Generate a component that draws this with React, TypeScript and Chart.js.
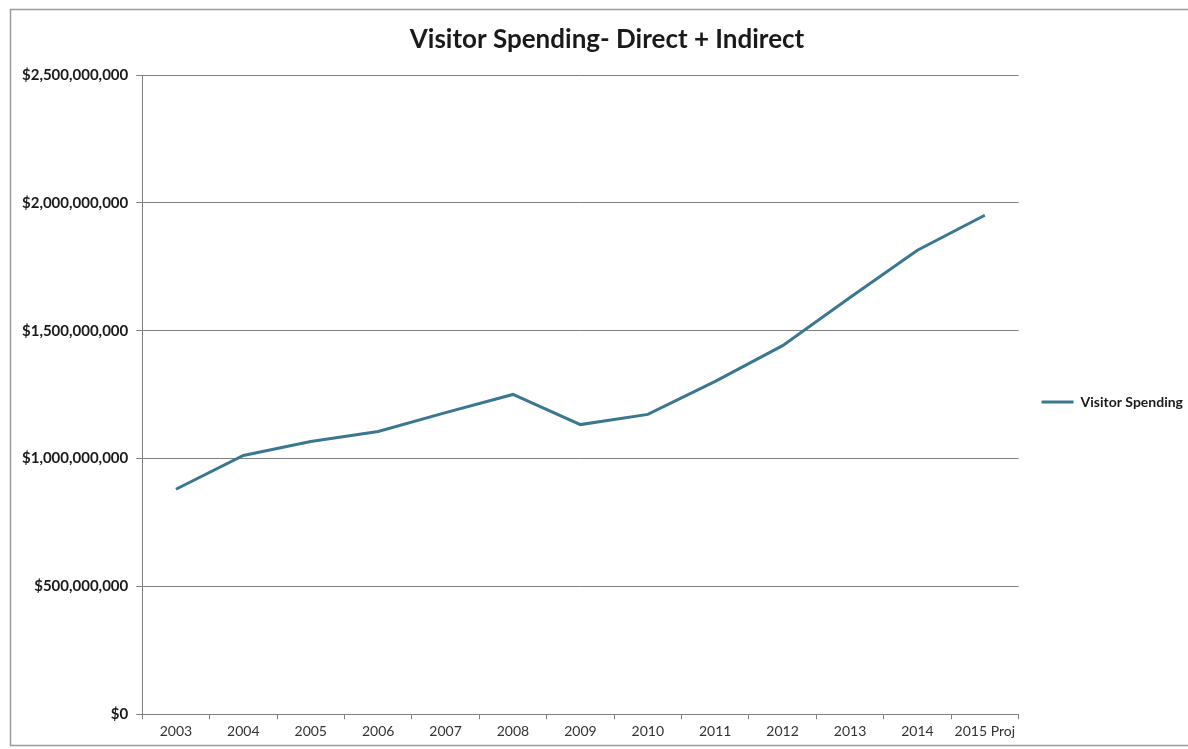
import React, { useEffect, useRef } from "react";
import { Chart, registerables } from "chart.js";

Chart.register(...registerables);

const categories: string[] = [
  "2003", "2004", "2005", "2006", "2007", "2008", "2009",
  "2010", "2011", "2012", "2013", "2014", "2015 Proj",
];

const visitorSpending: number[] = [
  880000000, 1012000000, 1067000000, 1106000000, 1180000000, 1251000000,
  1133000000, 1173000000, 1302000000, 1442000000, 1630000000, 1815000000,
  1952000000,
];

const yTicks: number[] = [0, 500000000, 1000000000, 1500000000, 2000000000, 2500000000];

const titleText = "Visitor Spending- Direct + Indirect";
const seriesName = "Visitor Spending";

const lineColor = "#3b7790";
const gridColor = "#808080";

const borderPlugin = {
  id: "outerBorder",
  beforeDraw(chart: any) {
    const ctx = chart.ctx;
    ctx.save();
    ctx.fillStyle = "#ffffff";
    ctx.fillRect(0, 0, chart.width, chart.height);
    ctx.strokeStyle = "#9a9a9a";
    ctx.lineWidth = 1.5;
    ctx.strokeRect(10.5, 9.5, chart.width + 20, 736);
    ctx.restore();
  },
};

// Nudge the library's own legend and title to where the reference places them.
const layoutShiftPlugin = {
  id: "layoutShift",
  afterLayout(chart: any) {
    const lg = chart.legend;
    if (lg) {
      const dx = 19;
      const dy = 30;
      lg.left += dx;
      lg.right += dx;
      lg.top += dy;
      lg.bottom += dy;
    }
    const tb = chart.titleBlock;
    if (tb) {
      tb.left += 13;
      tb.right += 13;
    }
  },
};

export default function App() {
  const canvasRef = useRef<HTMLCanvasElement | null>(null);

  useEffect(() => {
    document.body.style.margin = "0";
    const canvas = canvasRef.current;
    if (!canvas) return;
    const chart = new Chart(canvas, {
      type: "line",
      data: {
        labels: categories,
        datasets: [
          {
            label: seriesName,
            data: visitorSpending,
            borderColor: lineColor,
            backgroundColor: lineColor,
            borderWidth: 3,
            pointRadius: 0,
            tension: 0,
            pointStyle: "line",
          },
        ],
      },
      options: {
        responsive: false,
        animation: false,
        devicePixelRatio: 1,
        layout: { padding: { left: 14, right: 14, top: 0, bottom: 5 } },
        plugins: {
          title: {
            display: true,
            text: titleText,
            color: "#1a1a1a",
            font: { family: "Lato", size: 26, weight: "bold" },
            padding: { top: 24, bottom: 20 },
          },
          legend: {
            display: true,
            position: "right",
            labels: {
              usePointStyle: true,
              pointStyle: "line",
              pointStyleWidth: 32,
              color: "#1a1a1a",
              font: { family: "Lato", size: 14, weight: "bold" },
              padding: 4,
            },
          },
          tooltip: { enabled: false },
        },
        scales: {
          x: {
            type: "category",
            offset: true,
            grid: {
              display: true,
              offset: true,
              drawOnChartArea: false,
              drawTicks: true,
              tickLength: 5,
              color: gridColor,
            },
            border: { display: true, color: gridColor, width: 1 },
            ticks: {
              color: "#333333",
              font: { family: "Lato", size: 14 },
              padding: 4,
              maxRotation: 0,
              autoSkip: false,
            },
          },
          y: {
            min: 0,
            max: 2500000000,
            afterBuildTicks(scale: any) {
              scale.ticks = yTicks.map((v) => ({ value: v }));
            },
            grid: {
              color: gridColor,
              lineWidth: 1,
              drawTicks: true,
              tickLength: 6,
            },
            border: { display: true, color: gridColor, width: 1 },
            ticks: {
              color: "#1a1a1a",
              font: { family: "Lato", size: 15, weight: "bold" },
              padding: 8,
              callback: (v: any) => "$" + Number(v).toLocaleString("en-US"),
            },
          },
        },
      },
      plugins: [borderPlugin, layoutShiftPlugin],
    });
    return () => chart.destroy();
  }, []);

  return (
    <div style={{ position: "fixed", left: 0, top: 0, width: 1188, height: 749 }}>
      <canvas ref={canvasRef} width={1188} height={749} />
    </div>
  );
}
